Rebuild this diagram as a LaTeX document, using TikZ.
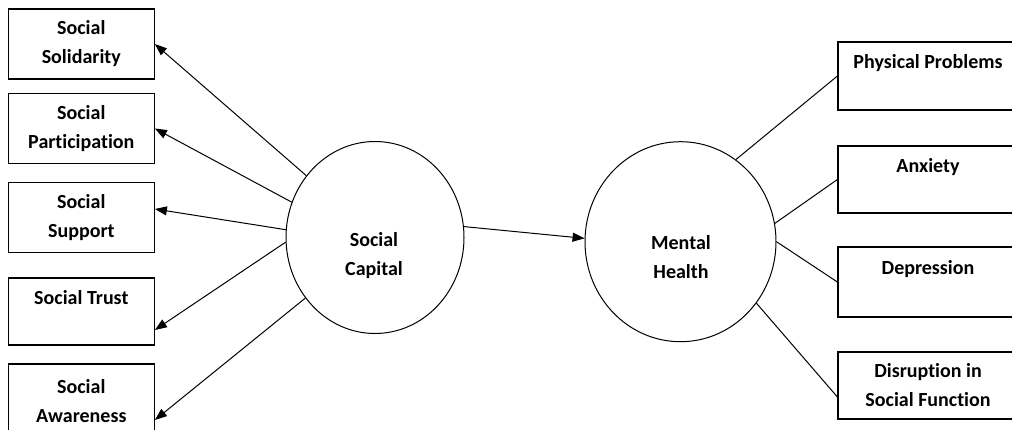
\documentclass[tikz,border=0pt]{standalone}
\usepackage{fontspec}
\setmainfont{Carlito}[Ligatures=CommonOff]
\usetikzlibrary{arrows.meta}
\usetikzlibrary{shapes.geometric}

\begin{document}
\begin{tikzpicture}[x=1pt,y=-1pt,
		txt/.style={align=center,inner sep=0pt,font=\bfseries\fontsize{20}{29}\selectfont},
		box/.style={txt,draw,rectangle,line width=1.2pt},
		lbox/.style={box,minimum width=146pt,minimum height=70pt},
		rbox/.style={box,minimum width=180pt,minimum height=68pt},
		latent/.style={draw,ellipse,line width=1pt,inner sep=0pt},
		link/.style={line width=1pt},
		arr/.style={link,-{Triangle[length=12pt,width=9pt]}}]
		% Set up centres of the two circles
		\newcommand{\capcentre}{(375,237.5)}
		\newcommand{\mhcentre}{(680.5,241.7)}

		\useasboundingbox (0,0) rectangle (1012,429);

		\node[latent,minimum width=178pt,minimum height=192pt](sc) at \capcentre {};
		\node[latent,minimum width=191pt,minimum height=200pt](mh) at \mhcentre {};
		\node[txt](sctext) at (374,256) {Social\\Capital};
		\node[txt](mhtext) at (681,257) {Mental\\Health};

		\node[lbox](sol) at (81.3,44) {Social\\Solidarity};
		\node[lbox](par) at (81.3,128.5) {Social\\Participation};
		\node[lbox](sup) at (81.3,217.5) {Social\\Support};
		\node[lbox,minimum height=67pt](tru) at (81.3,311.5) {Social Trust\\\mbox{}};
		\node[lbox,minimum height=74pt](awa) at (81.3,401) {Social\\Awareness};

		\node[rbox](phy) at (928,76) {Physical Problems\\\mbox{}};
		\node[rbox,minimum height=67pt](anx) at (928,179.5) {Anxiety\\\mbox{}};
		\node[rbox,minimum height=70pt](dep) at (928,282) {Depression\\\mbox{}};
		\node[rbox,minimum height=67pt](dis) at (928,385.5) {Disruption in\\Social Function};

		\draw[arr] (sc.138) -- (sol.east);
		\draw[arr] (sc.157) -- (par.east);
		\draw[arr] (sc.175) -- ([yshift=8.5pt]sup.east);
		\draw[arr] (sc.183) -- ([yshift=-18.5pt]tru.east);
		\draw[arr] (sc.221) -- ([yshift=-19pt]awa.east);

		\draw[arr] (sc.7) -- (mh.178);

		\draw[link] (mh.56) -- (phy.west);
		\draw[link] (mh.11) -- (anx.west);
		\draw[link] (mh.east) -- (dep.west);
		\draw[link] (mh.-39) -- ([yshift=-11.5pt]dis.west);
	\end{tikzpicture}
\end{document}
